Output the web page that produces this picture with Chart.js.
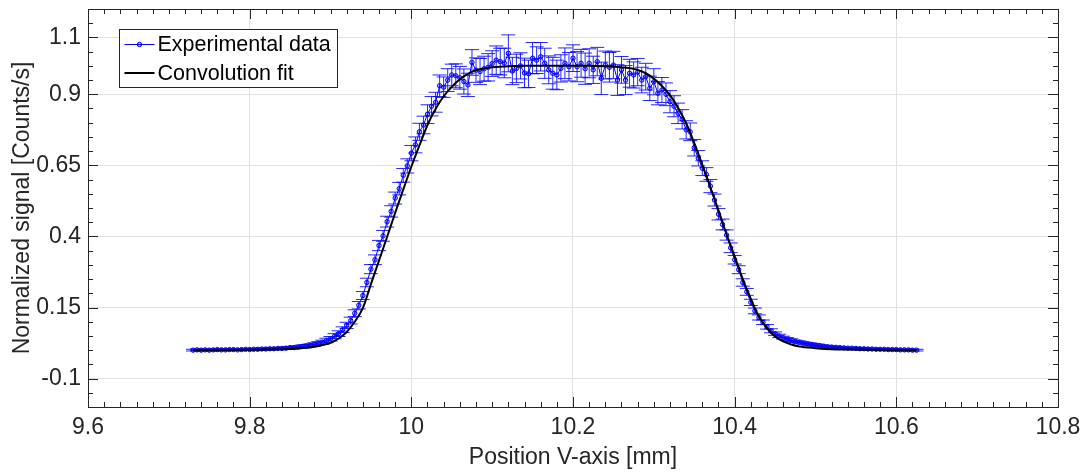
<!DOCTYPE html>
<html>
<head>
<meta charset="utf-8">
<title>Normalized signal vs position</title>
<script src="https://cdn.jsdelivr.net/npm/chart.js@4.4.1/dist/chart.umd.min.js"></script>
<style>
  html, body { margin: 0; padding: 0; background: #fff; }
  canvas { display: block; }
</style>
</head>
<body>
<canvas id="scanChart" width="1086" height="472"></canvas>
<script>
// scan positions [mm]
const positions = [
  9.730, 9.735, 9.740, 9.745, 9.750, 9.755, 9.760, 9.765, 9.770, 9.775,
  9.780, 9.785, 9.790, 9.795, 9.800, 9.805, 9.810, 9.815, 9.820, 9.825,
  9.830, 9.835, 9.840, 9.845, 9.850, 9.855, 9.860, 9.865, 9.870, 9.875,
  9.880, 9.885, 9.890, 9.895, 9.900, 9.905, 9.910, 9.915, 9.920, 9.925,
  9.930, 9.935, 9.940, 9.945, 9.950, 9.955, 9.960, 9.965, 9.970, 9.975,
  9.980, 9.985, 9.990, 9.995, 10.000, 10.005, 10.010, 10.015, 10.020, 10.025,
  10.030, 10.035, 10.040, 10.045, 10.050, 10.055, 10.060, 10.065, 10.070, 10.075,
  10.080, 10.085, 10.090, 10.095, 10.100, 10.105, 10.110, 10.115, 10.120, 10.125,
  10.130, 10.135, 10.140, 10.145, 10.150, 10.155, 10.160, 10.165, 10.170, 10.175,
  10.180, 10.185, 10.190, 10.195, 10.200, 10.205, 10.210, 10.215, 10.220, 10.225,
  10.230, 10.235, 10.240, 10.245, 10.250, 10.255, 10.260, 10.265, 10.270, 10.275,
  10.280, 10.285, 10.290, 10.295, 10.300, 10.305, 10.310, 10.315, 10.320, 10.325,
  10.330, 10.335, 10.340, 10.345, 10.350, 10.355, 10.360, 10.365, 10.370, 10.375,
  10.380, 10.385, 10.390, 10.395, 10.400, 10.405, 10.410, 10.415, 10.420, 10.425,
  10.430, 10.435, 10.440, 10.445, 10.450, 10.455, 10.460, 10.465, 10.470, 10.475,
  10.480, 10.485, 10.490, 10.495, 10.500, 10.505, 10.510, 10.515, 10.520, 10.525,
  10.530, 10.535, 10.540, 10.545, 10.550, 10.555, 10.560, 10.565, 10.570, 10.575,
  10.580, 10.585, 10.590, 10.595, 10.600, 10.605, 10.610, 10.615, 10.620, 10.625
]

// measured signal (normalized)
const expSignal = [
  0.000, 0.001, 0.000, 0.001, 0.000, 0.001, 0.002, 0.001, 0.001, 0.002,
  0.002, 0.001, 0.002, 0.003, 0.002, 0.003, 0.003, 0.004, 0.004, 0.005,
  0.005, 0.006, 0.006, 0.007, 0.009, 0.009, 0.011, 0.013, 0.015, 0.017,
  0.020, 0.024, 0.028, 0.034, 0.040, 0.049, 0.058, 0.072, 0.087, 0.104,
  0.130, 0.158, 0.192, 0.238, 0.285, 0.318, 0.368, 0.402, 0.452, 0.488,
  0.535, 0.568, 0.615, 0.648, 0.693, 0.722, 0.768, 0.792, 0.830, 0.858,
  0.872, 0.930, 0.925, 0.950, 0.968, 0.965, 0.958, 0.945, 0.933, 1.012,
  0.985, 0.980, 0.990, 0.995, 1.008, 1.020, 1.015, 1.010, 1.044, 0.982,
  0.991, 1.000, 0.975, 0.972, 1.027, 1.020, 1.032, 1.009, 0.986, 0.974,
  0.968, 0.991, 1.009, 0.997, 1.027, 0.997, 1.009, 0.990, 1.009, 0.986,
  1.015, 0.956, 1.003, 0.995, 1.003, 0.950, 0.986, 0.950, 0.974, 0.968,
  0.978, 0.950, 0.962, 0.921, 0.944, 0.904, 0.915, 0.900, 0.874, 0.858,
  0.833, 0.812, 0.775, 0.768, 0.712, 0.675, 0.640, 0.618, 0.577, 0.528,
  0.478, 0.442, 0.405, 0.360, 0.318, 0.283, 0.238, 0.205, 0.168, 0.138,
  0.115, 0.098, 0.082, 0.068, 0.058, 0.050, 0.044, 0.039, 0.035, 0.031,
  0.028, 0.025, 0.022, 0.020, 0.018, 0.016, 0.014, 0.012, 0.011, 0.010,
  0.009, 0.008, 0.007, 0.007, 0.006, 0.005, 0.005, 0.004, 0.004, 0.003,
  0.003, 0.003, 0.002, 0.002, 0.002, 0.001, 0.001, 0.001, 0.000, 0.000
]

// error bar half-lengths
const expError = [
  0.003, 0.003, 0.003, 0.003, 0.003, 0.003, 0.003, 0.003, 0.003, 0.003,
  0.003, 0.003, 0.003, 0.003, 0.003, 0.003, 0.003, 0.003, 0.003, 0.003,
  0.003, 0.003, 0.003, 0.004, 0.004, 0.004, 0.004, 0.005, 0.005, 0.005,
  0.006, 0.006, 0.007, 0.008, 0.008, 0.009, 0.010, 0.010, 0.011, 0.012,
  0.012, 0.013, 0.014, 0.015, 0.016, 0.017, 0.018, 0.019, 0.019, 0.020,
  0.021, 0.022, 0.024, 0.025, 0.027, 0.028, 0.030, 0.031, 0.033, 0.034,
  0.035, 0.038, 0.036, 0.040, 0.038, 0.042, 0.040, 0.044, 0.041, 0.045,
  0.043, 0.046, 0.044, 0.048, 0.045, 0.050, 0.047, 0.052, 0.065, 0.048,
  0.050, 0.046, 0.052, 0.048, 0.055, 0.047, 0.050, 0.053, 0.049, 0.056,
  0.052, 0.048, 0.054, 0.050, 0.047, 0.053, 0.049, 0.055, 0.051, 0.048,
  0.050, 0.057, 0.049, 0.052, 0.048, 0.054, 0.047, 0.051, 0.049, 0.046,
  0.048, 0.045, 0.047, 0.043, 0.046, 0.041, 0.044, 0.040, 0.039, 0.037,
  0.036, 0.034, 0.032, 0.031, 0.029, 0.027, 0.026, 0.024, 0.023, 0.021,
  0.020, 0.019, 0.018, 0.017, 0.015, 0.014, 0.013, 0.012, 0.011, 0.010,
  0.009, 0.008, 0.008, 0.007, 0.006, 0.006, 0.005, 0.005, 0.005, 0.004,
  0.004, 0.004, 0.004, 0.004, 0.004, 0.003, 0.003, 0.003, 0.003, 0.003,
  0.003, 0.003, 0.003, 0.003, 0.003, 0.003, 0.003, 0.003, 0.003, 0.003,
  0.003, 0.003, 0.003, 0.003, 0.003, 0.003, 0.003, 0.003, 0.003, 0.003
]

// convolution fit curve
const fitPositions = [
  9.73, 9.76, 9.80, 9.82, 9.84, 9.86, 9.87, 9.88, 9.89, 9.90,
  9.91, 9.92, 9.93, 9.94, 9.95, 9.96, 9.97, 9.98, 9.99, 10.00,
  10.01, 10.02, 10.03, 10.04, 10.05, 10.06, 10.07, 10.08, 10.09, 10.10,
  10.12, 10.14, 10.18, 10.22, 10.24, 10.26, 10.28, 10.29, 10.30, 10.31,
  10.32, 10.33, 10.34, 10.35, 10.36, 10.37, 10.38, 10.39, 10.40, 10.41,
  10.42, 10.43, 10.44, 10.45, 10.46, 10.47, 10.48, 10.50, 10.52, 10.54,
  10.57, 10.60, 10.625
]
const fitSignal = [
  0.000, 0.000, 0.001, 0.002, 0.003, 0.006, 0.008, 0.012, 0.018, 0.026,
  0.041, 0.064, 0.100, 0.148, 0.232, 0.315, 0.398, 0.483, 0.565, 0.645,
  0.720, 0.792, 0.848, 0.893, 0.926, 0.953, 0.972, 0.985, 0.991, 0.995,
  0.999, 1.000, 1.000, 1.000, 0.999, 0.995, 0.986, 0.974, 0.955, 0.929,
  0.897, 0.853, 0.798, 0.728, 0.652, 0.572, 0.492, 0.407, 0.330, 0.250,
  0.180, 0.118, 0.077, 0.048, 0.031, 0.020, 0.013, 0.007, 0.003, 0.002,
  0.001, 0.000, 0.000
]

const xTickValues = [9.6, 9.8, 10, 10.2, 10.4, 10.6, 10.8]
const yTickValues = [-0.1, 0.15, 0.4, 0.65, 0.9, 1.1]

const FONT = "'Liberation Sans', Arial, Helvetica, sans-serif"
const AXIS_COLOR = '#262626'

// error bars with caps, drawn under the lines
const errorBars = {
  id: 'errorBars',
  beforeDatasetsDraw(chart) {
    const { ctx, scales: { x, y } } = chart
    ctx.save()
    ctx.strokeStyle = 'rgba(0, 0, 255, 0.85)'
    ctx.lineWidth = 1
    ctx.beginPath()
    positions.forEach((pos, i) => {
      const px = x.getPixelForValue(pos)
      const top = y.getPixelForValue(expSignal[i] + expError[i])
      const bot = y.getPixelForValue(expSignal[i] - expError[i])
      ctx.moveTo(px, top); ctx.lineTo(px, bot)
      ctx.moveTo(px - 7, top); ctx.lineTo(px + 7, top)
      ctx.moveTo(px - 7, bot); ctx.lineTo(px + 7, bot)
    })
    ctx.stroke()
    ctx.restore()
  }
}

// MATLAB-like box with inward major/minor ticks on all four sides
const axisBox = {
  id: 'axisBox',
  afterDraw(chart) {
    const { ctx, chartArea: a, scales: { x, y } } = chart
    ctx.save()
    ctx.strokeStyle = AXIS_COLOR
    ctx.lineWidth = 1
    ctx.beginPath()
    const xTick = (v, len) => {
      const px = Math.round(x.getPixelForValue(v)) + 0.5
      ctx.moveTo(px, a.bottom); ctx.lineTo(px, a.bottom - len)
      ctx.moveTo(px, a.top); ctx.lineTo(px, a.top + len)
    }
    const yTick = (v, len) => {
      const py = Math.round(y.getPixelForValue(v)) + 0.5
      ctx.moveTo(a.left, py); ctx.lineTo(a.left + len, py)
      ctx.moveTo(a.right, py); ctx.lineTo(a.right - len, py)
    }
    for (let k = 0; k <= 60; k++) xTick(9.6 + k * 0.02, 5)
    for (let k = 0; k <= 28; k++) yTick(-0.2 + k * 0.05, 5)
    xTickValues.forEach(v => xTick(v, 10))
    yTickValues.forEach(v => yTick(v, 10))
    ctx.stroke()
    ctx.strokeRect(Math.round(a.left) + 0.5, Math.round(a.top) + 0.5,
      Math.round(a.right - a.left), Math.round(a.bottom - a.top))
    ctx.restore()
  }
}

// legend box in the upper-left corner of the axes
const boxLegend = {
  id: 'boxLegend',
  afterDraw(chart) {
    const { ctx } = chart
    const items = [chart.data.datasets[1], chart.data.datasets[0]]
    const left = 119.5, top = 29.5, w = 218, rowH = 28.5
    ctx.save()
    ctx.fillStyle = '#fff'
    ctx.fillRect(left, top, w, 58)
    ctx.strokeStyle = AXIS_COLOR
    ctx.lineWidth = 1
    ctx.strokeRect(left, top, w, 58)
    ctx.font = '21.5px ' + FONT
    ctx.textBaseline = 'middle'
    items.forEach((ds, i) => {
      const cy = top + 15 + i * rowH
      ctx.strokeStyle = ds.borderColor
      ctx.lineWidth = ds.borderWidth
      ctx.beginPath()
      ctx.moveTo(left + 5, cy); ctx.lineTo(left + 35, cy)
      ctx.stroke()
      if (ds.pointRadius > 0) {
        ctx.beginPath()
        ctx.arc(left + 20, cy, ds.pointRadius, 0, Math.PI * 2)
        ctx.fillStyle = ds.pointBackgroundColor
        ctx.fill()
        ctx.lineWidth = 1
        ctx.stroke()
      }
      ctx.fillStyle = '#000'
      ctx.fillText(ds.label, left + 38, cy + 1)
    })
    ctx.restore()
  }
}

new Chart(document.getElementById('scanChart'), {
  type: 'line',
  data: {
    datasets: [
      {
        label: 'Convolution fit',
        data: fitPositions.map((p, i) => ({ x: p, y: fitSignal[i] })),
        borderColor: '#000000',
        borderWidth: 2,
        pointRadius: 0,
        cubicInterpolationMode: 'monotone',
        fill: false
      },
      {
        label: 'Experimental data',
        data: positions.map((p, i) => ({ x: p, y: expSignal[i] })),
        borderColor: '#0000ff',
        borderWidth: 1,
        pointRadius: 2.2,
        pointBorderWidth: 1,
        pointBorderColor: '#0000ff',
        pointBackgroundColor: 'rgba(0, 0, 255, 0.3)',
        tension: 0,
        fill: false
      }
    ]
  },
  options: {
    responsive: false,
    devicePixelRatio: 1,
    animation: false,
    layout: { padding: { top: 9, right: 28, left: 0, bottom: 0 } },
    plugins: {
      legend: { display: false },
      tooltip: { enabled: false }
    },
    scales: {
      x: {
        type: 'linear',
        min: 9.6,
        max: 10.8,
        afterFit: s => { s.height = 65; s.paddingLeft = 0; s.paddingRight = 0 },
        afterBuildTicks: s => { s.ticks = xTickValues.map(v => ({ value: v })) },
        grid: { color: '#e0e0e0', drawTicks: false },
        border: { display: false },
        ticks: {
          autoSkip: false,
          maxRotation: 0,
          padding: 7,
          color: AXIS_COLOR,
          font: { family: FONT, size: 23 },
          callback: v => String(v)
        },
        title: {
          display: true,
          text: 'Position V-axis [mm]',
          color: AXIS_COLOR,
          font: { family: FONT, size: 23 },
          padding: { top: 0, bottom: 1 }
        }
      },
      y: {
        type: 'linear',
        min: -0.2,
        max: 1.2,
        afterFit: s => { s.width = 88; s.paddingTop = 0; s.paddingBottom = 0 },
        afterBuildTicks: s => { s.ticks = yTickValues.map(v => ({ value: v })) },
        grid: { color: '#e0e0e0', drawTicks: false },
        border: { display: false },
        ticks: {
          autoSkip: false,
          padding: 7,
          color: AXIS_COLOR,
          font: { family: FONT, size: 23 },
          callback: v => String(v)
        },
        title: {
          display: true,
          text: 'Normalized signal [Counts/s]',
          color: AXIS_COLOR,
          font: { family: FONT, size: 23 },
          padding: { top: 9, bottom: 0 }
        }
      }
    }
  },
  plugins: [errorBars, axisBox, boxLegend]
})
</script>
</body>
</html>
